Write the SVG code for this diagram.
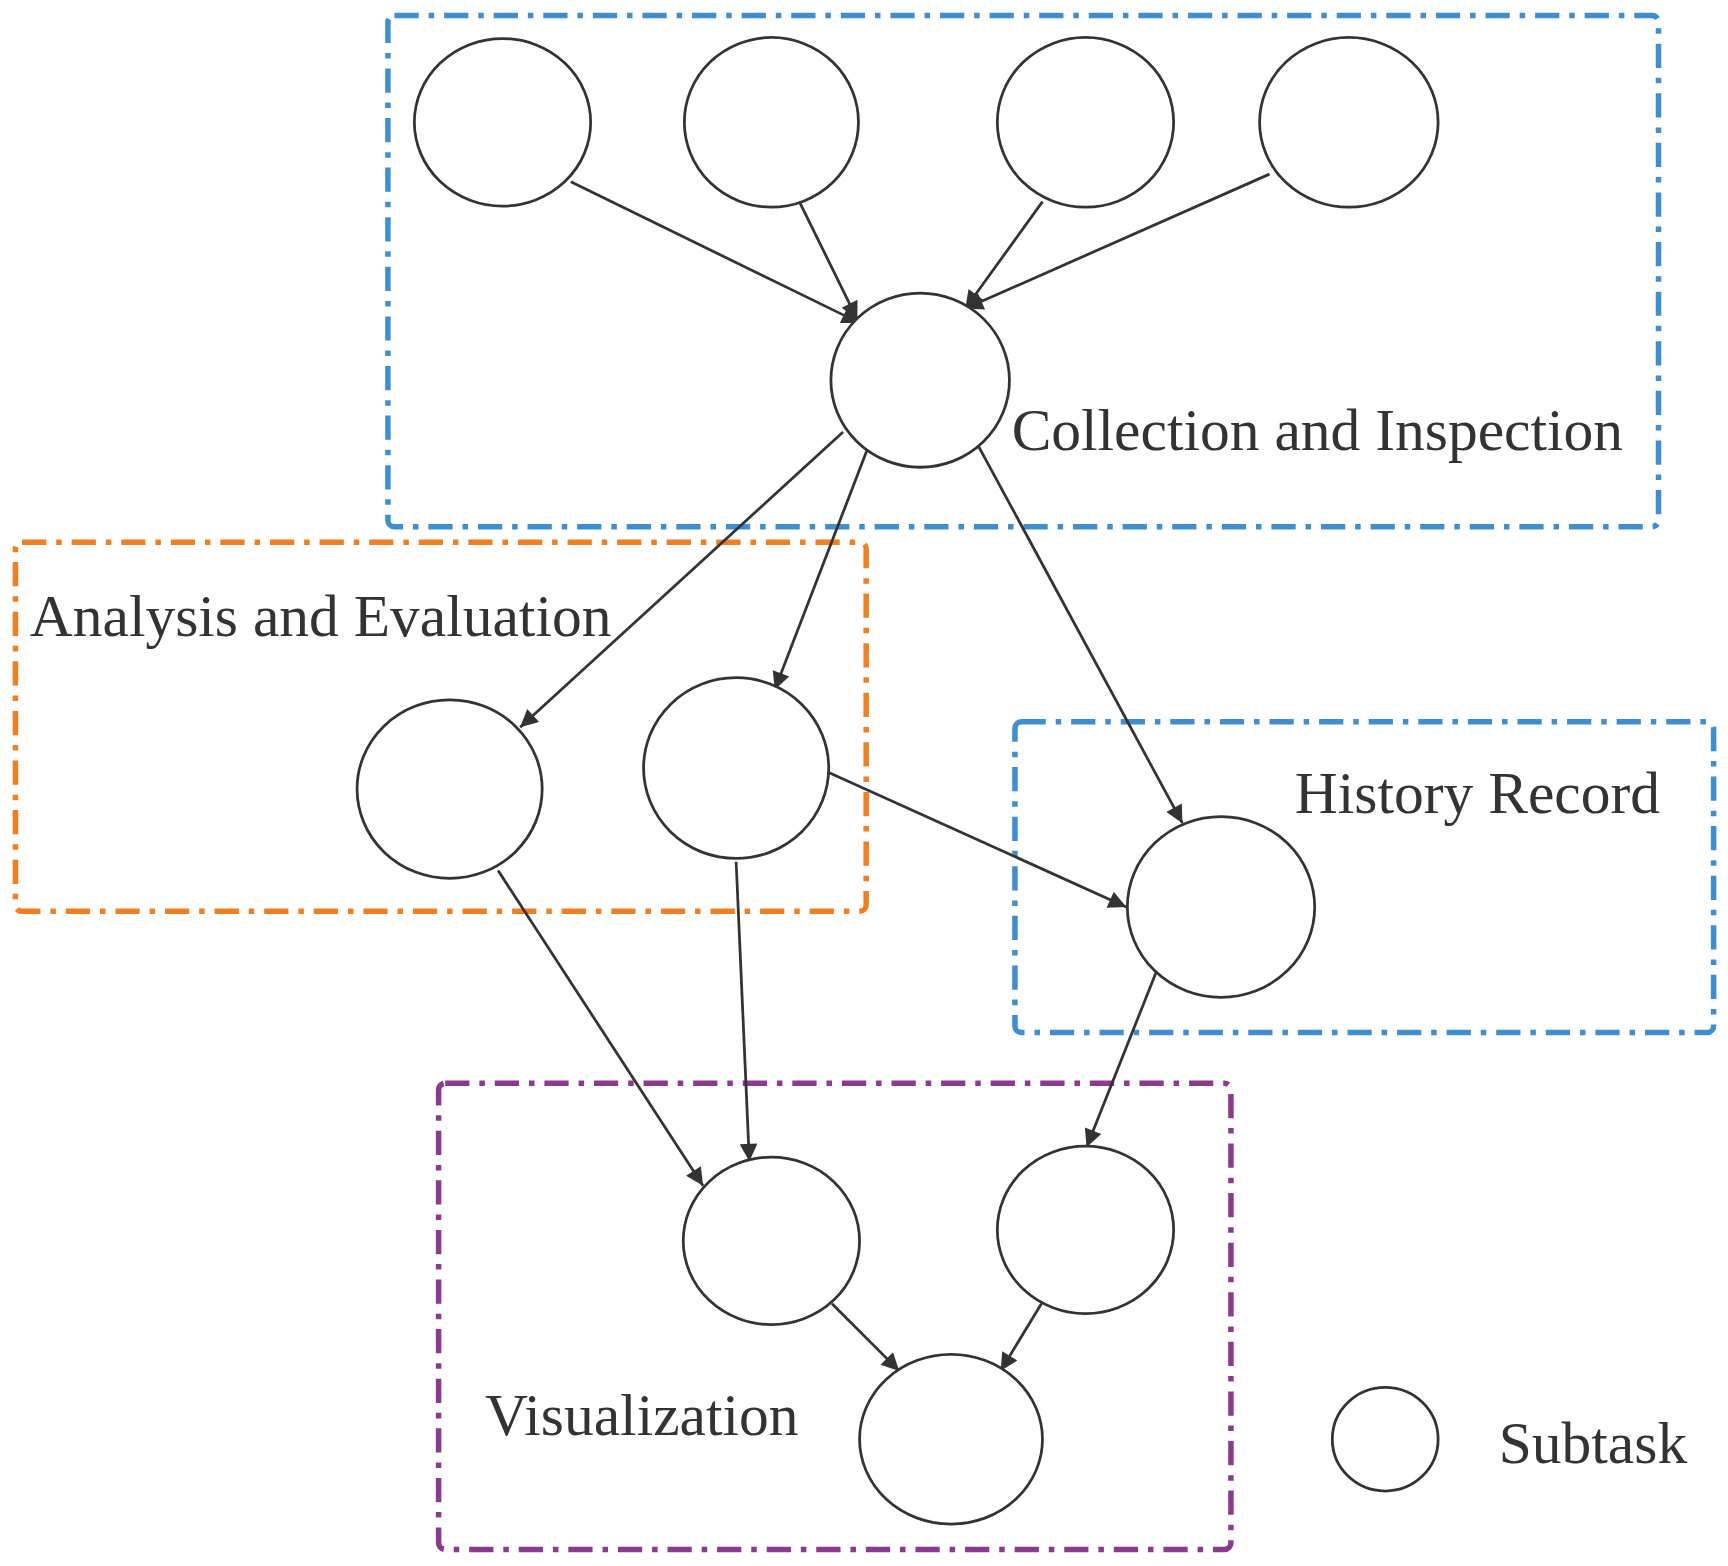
<svg xmlns="http://www.w3.org/2000/svg" width="1728" height="1566" viewBox="0 0 1728 1566">
<style>
.n{fill:#fff;stroke:#333;stroke-width:2.5}
.g{fill:none;stroke-width:5;stroke-dasharray:22 9 5 9}
.e{stroke:#333;stroke-width:2.5;fill:none;marker-end:url(#a)}
text{font-family:"Liberation Serif",serif;font-size:54px;fill:#333}
</style>
<defs><marker id="a" viewBox="0 0 10 10" refX="10" refY="5" markerWidth="20" markerHeight="16" markerUnits="userSpaceOnUse" orient="auto"><path d="M0,0L10,5L0,10z" fill="#333"/></marker></defs>
<rect width="1728" height="1566" fill="#fff"/>
<g transform="scale(1.102)">
<g id="groups">
<rect class="g" x="352" y="14" width="1153" height="464" rx="6" stroke="#3f8fd0"/>
<rect class="g" x="14" y="492" width="772" height="335" rx="6" stroke="#f07f22"/>
<rect class="g" x="921" y="655" width="634" height="282" rx="6" stroke="#3f8fd0"/>
<rect class="g" x="398" y="983" width="719" height="423" rx="6" stroke="#8b3a8f"/>
<text x="918" y="408">Collection and Inspection</text>
<text x="27" y="577">Analysis and Evaluation</text>
<text x="1175" y="738">History Record</text>
<text x="440" y="1302">Visualization</text>
</g>
<g id="connectors">
<line class="e" x1="518" y1="165" x2="780" y2="293"/>
<line class="e" x1="720" y1="172" x2="778" y2="290"/>
<line class="e" x1="946" y1="183" x2="876" y2="280"/>
<line class="e" x1="1152" y1="158" x2="876" y2="280"/>
<line class="e" x1="765" y1="392" x2="472" y2="660"/>
<line class="e" x1="787" y1="408" x2="703" y2="626"/>
<line class="e" x1="888" y1="405" x2="1073" y2="747"/>
<line class="e" x1="752" y1="701" x2="1022" y2="823"/>
<line class="e" x1="452" y1="790" x2="638" y2="1076"/>
<line class="e" x1="668" y1="782" x2="680" y2="1054"/>
<line class="e" x1="1056" y1="865" x2="986" y2="1041"/>
<line class="e" x1="755" y1="1183" x2="816" y2="1244"/>
<line class="e" x1="945" y1="1183" x2="908" y2="1244"/>
</g>
<g id="n1"><ellipse class="n" cx="456" cy="111" rx="80" ry="76"/></g>
<g id="n2"><ellipse class="n" cx="700" cy="111" rx="79" ry="77"/></g>
<g id="n3"><ellipse class="n" cx="985" cy="111" rx="80" ry="77"/></g>
<g id="n4"><ellipse class="n" cx="1224" cy="111" rx="81" ry="77"/></g>
<g id="n5"><ellipse class="n" cx="835" cy="345" rx="81" ry="79"/></g>
<g id="n6"><ellipse class="n" cx="408" cy="716" rx="84" ry="81"/></g>
<g id="n7"><ellipse class="n" cx="668" cy="697" rx="84" ry="82"/></g>
<g id="n8"><ellipse class="n" cx="1108" cy="823" rx="85" ry="82"/></g>
<g id="n9"><ellipse class="n" cx="700" cy="1126" rx="80" ry="76"/></g>
<g id="n10"><ellipse class="n" cx="985" cy="1116" rx="80" ry="76"/></g>
<g id="n11"><ellipse class="n" cx="863" cy="1306" rx="83" ry="77"/></g>
<g id="legend"><ellipse class="n" cx="1257" cy="1306" rx="48" ry="47"/><text x="1360" y="1328">Subtask</text></g>
</g>
</svg>
